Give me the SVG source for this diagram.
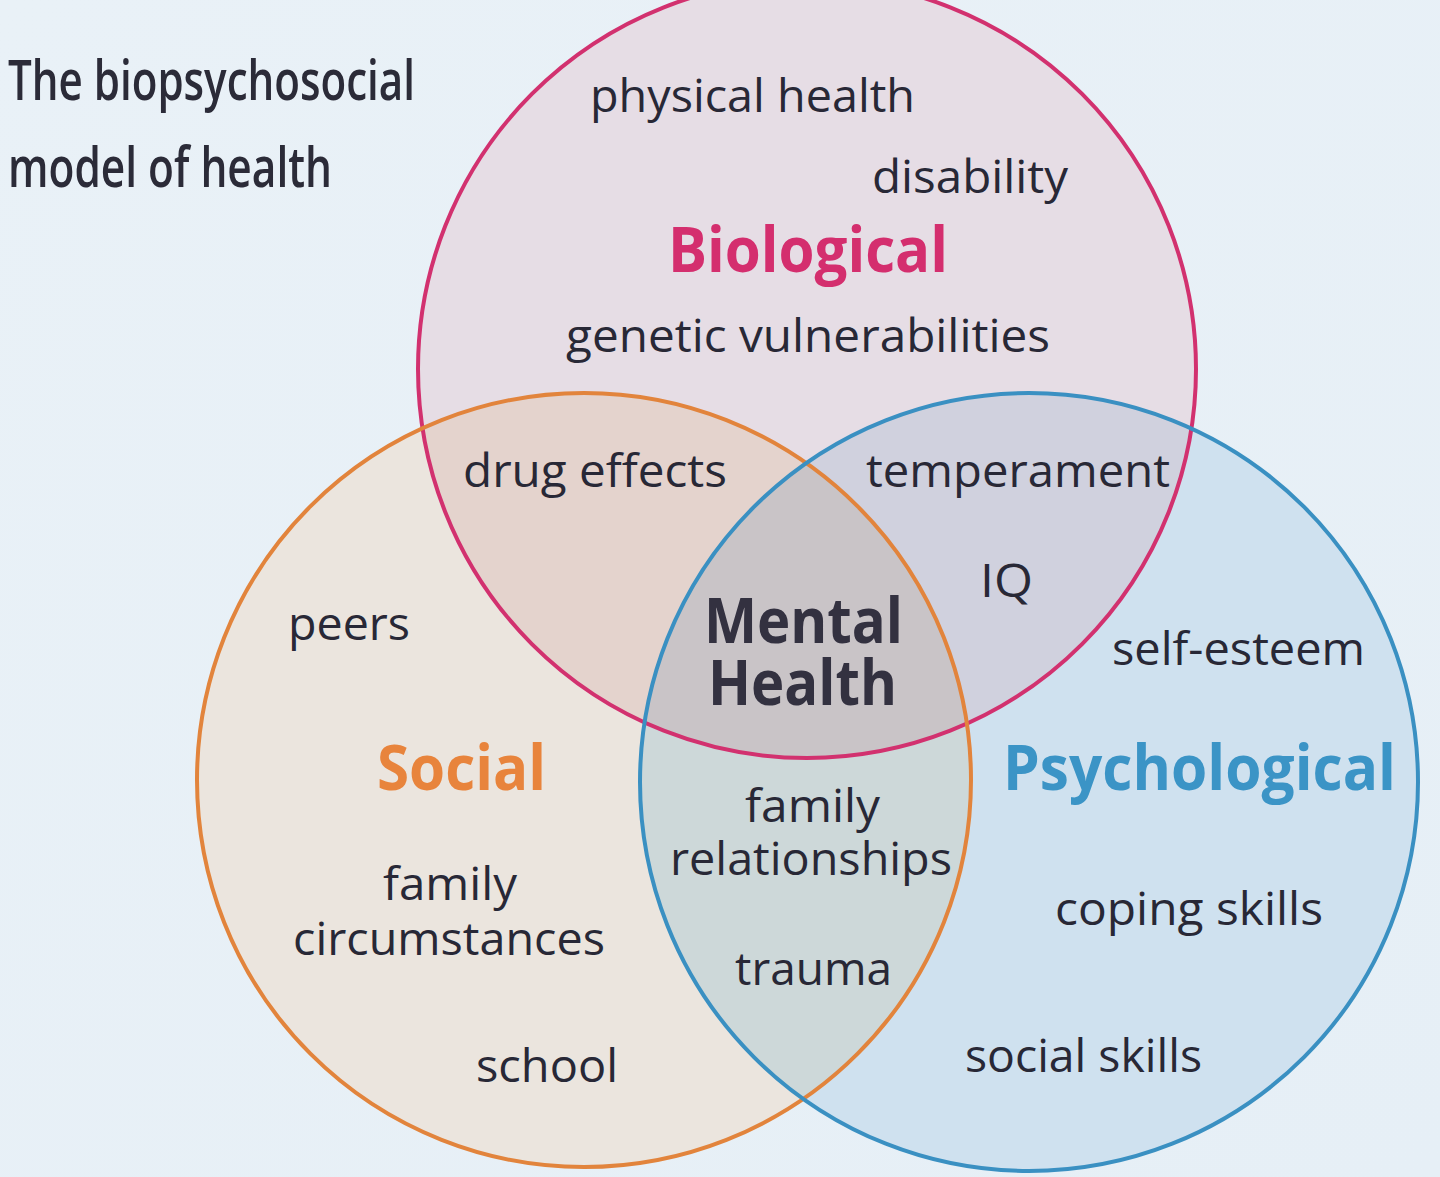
<svg xmlns="http://www.w3.org/2000/svg" width="1440" height="1177" viewBox="0 0 1440 1177">
<defs>
  <linearGradient id="bg" x1="0" y1="0" x2="1" y2="1">
    <stop offset="0" stop-color="#e9f1f7"/>
    <stop offset="1" stop-color="#e6eff6"/>
  </linearGradient>
  <clipPath id="clipBio"><circle cx="807" cy="369" r="389"/></clipPath>
  <clipPath id="clipSoc"><circle cx="584" cy="780" r="387"/></clipPath>
  <clipPath id="clipPsy"><circle cx="1029" cy="782" r="389"/></clipPath>
</defs>
<style>
  .lbl { font-family: "Open Sans", "Noto Sans", sans-serif; font-size: 45px; font-weight: 500; fill: #282836; }
  .ttl { font-family: "Open Sans", "Liberation Sans", sans-serif; font-size: 56px; font-weight: 600; fill: #2b2b38; }
  .hd { font-family: "Open Sans", "Noto Sans", sans-serif; font-size: 62px; font-weight: bold; }
  .ring { fill: none; stroke-width: 4; }
</style>
<rect x="0" y="0" width="1440" height="1177" fill="url(#bg)"/>

<g id="fills">
  <circle cx="807" cy="369" r="389" fill="#e6dde5"/>
  <circle cx="584" cy="780" r="387" fill="#ebe5de"/>
  <circle cx="1029" cy="782" r="389" fill="#cfe1ef"/>
  <circle cx="584" cy="780" r="387" fill="#e4d3cd" clip-path="url(#clipBio)"/>
  <circle cx="1029" cy="782" r="389" fill="#d0d1de" clip-path="url(#clipBio)"/>
  <circle cx="1029" cy="782" r="389" fill="#cdd8d9" clip-path="url(#clipSoc)"/>
  <g clip-path="url(#clipBio)">
    <circle cx="1029" cy="782" r="389" fill="#c9c4c7" clip-path="url(#clipSoc)"/>
  </g>
</g>

<g id="title">
  <text class="ttl" x="8" y="100" textLength="407" lengthAdjust="spacingAndGlyphs">The biopsychosocial</text>
  <text class="ttl" x="8" y="187" textLength="324" lengthAdjust="spacingAndGlyphs">model of health</text>
</g>

<g id="biological">
  <circle class="ring" cx="807" cy="369" r="389" stroke="#d2316f"/>
  <text class="hd" x="668" y="272" fill="#d42e6e" textLength="280" lengthAdjust="spacingAndGlyphs">Biological</text>
  <text class="lbl" x="590" y="112" textLength="325" lengthAdjust="spacingAndGlyphs">physical health</text>
  <text class="lbl" x="872" y="193" textLength="196" lengthAdjust="spacingAndGlyphs">disability</text>
  <text class="lbl" x="566" y="352" textLength="484" lengthAdjust="spacingAndGlyphs">genetic vulnerabilities</text>
</g>

<g id="social">
  <circle class="ring" cx="584" cy="780" r="387" stroke="#e2843c"/>
  <text class="hd" x="377" y="790" fill="#e8843c" textLength="169" lengthAdjust="spacingAndGlyphs">Social</text>
  <text class="lbl" x="288" y="640" textLength="122" lengthAdjust="spacingAndGlyphs">peers</text>
  <text class="lbl" x="383" y="900" textLength="134" lengthAdjust="spacingAndGlyphs">family</text>
  <text class="lbl" x="293" y="955" textLength="312" lengthAdjust="spacingAndGlyphs">circumstances</text>
  <text class="lbl" x="476" y="1082" textLength="142" lengthAdjust="spacingAndGlyphs">school</text>
</g>

<g id="psychological">
  <circle class="ring" cx="1029" cy="782" r="389" stroke="#3a90c2"/>
  <text class="hd" x="1003" y="790" fill="#3b94c6" textLength="393" lengthAdjust="spacingAndGlyphs">Psychological</text>
  <text class="lbl" x="1112" y="665" textLength="253" lengthAdjust="spacingAndGlyphs">self-esteem</text>
  <text class="lbl" x="1055" y="925" textLength="268" lengthAdjust="spacingAndGlyphs">coping skills</text>
  <text class="lbl" x="965" y="1072" textLength="237" lengthAdjust="spacingAndGlyphs">social skills</text>
</g>

<g id="bio-social">
  <text class="lbl" x="463" y="487" textLength="264" lengthAdjust="spacingAndGlyphs">drug effects</text>
</g>

<g id="bio-psych">
  <text class="lbl" x="866" y="487" textLength="304" lengthAdjust="spacingAndGlyphs">temperament</text>
  <text class="lbl" x="980" y="597" textLength="53" lengthAdjust="spacingAndGlyphs">IQ</text>
</g>

<g id="social-psych">
  <text class="lbl" x="745" y="822" textLength="135" lengthAdjust="spacingAndGlyphs">family</text>
  <text class="lbl" x="670" y="875" textLength="282" lengthAdjust="spacingAndGlyphs">relationships</text>
  <text class="lbl" x="735" y="985" textLength="157" lengthAdjust="spacingAndGlyphs">trauma</text>
</g>

<g id="mental-health">
  <text class="hd" x="704" y="643" fill="#333140" textLength="199" lengthAdjust="spacingAndGlyphs">Mental</text>
  <text class="hd" x="708" y="705" fill="#333140" textLength="189" lengthAdjust="spacingAndGlyphs">Health</text>
</g>

<g id="connectors"/>
</svg>
